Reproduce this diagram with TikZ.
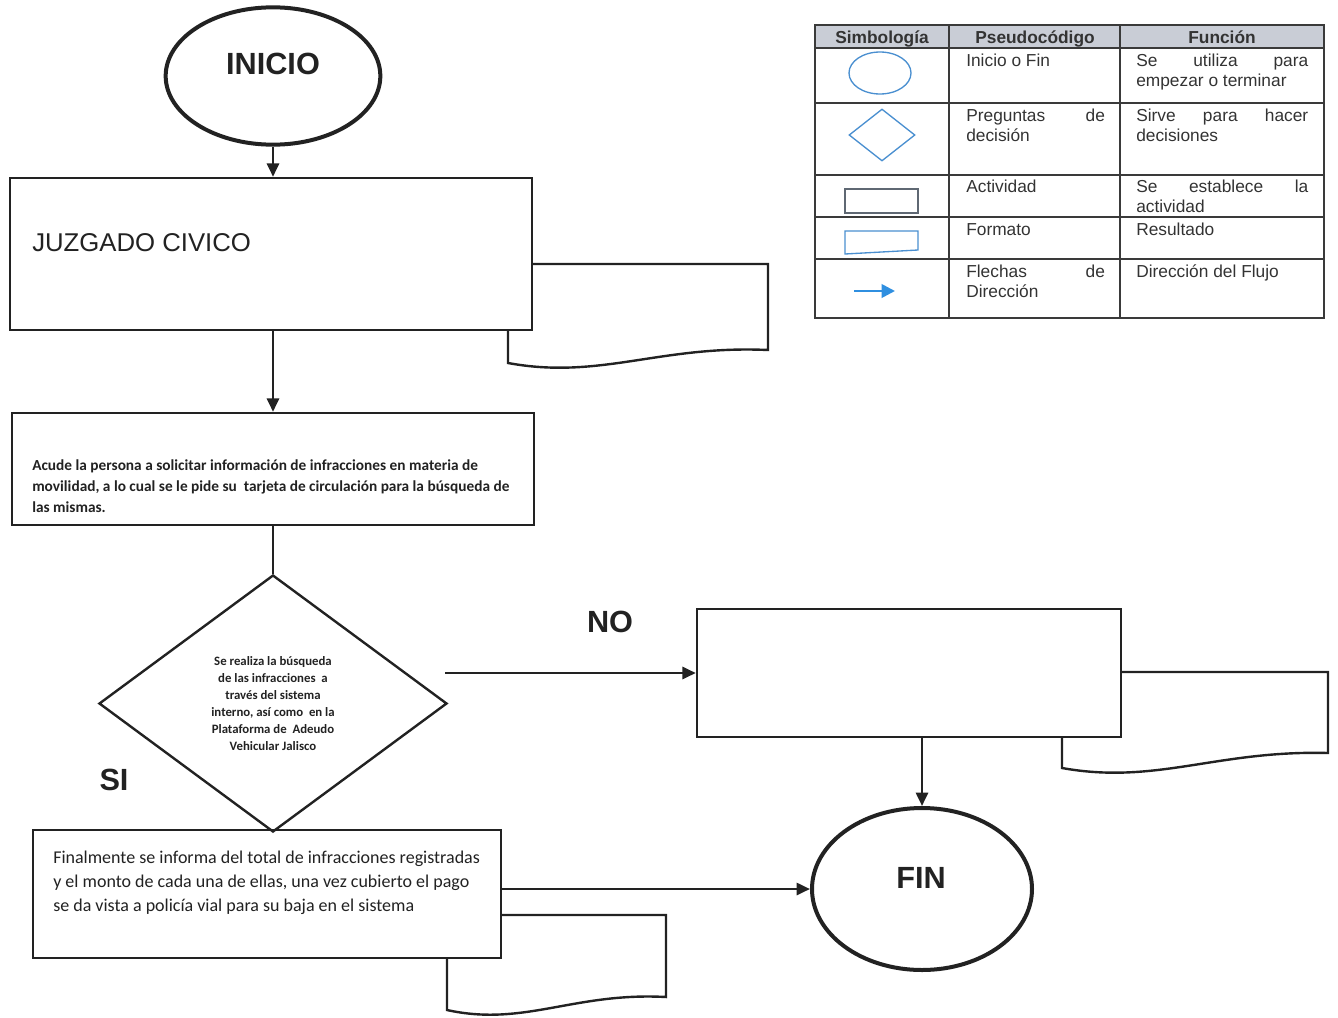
\documentclass[tikz,border=0pt]{standalone}
\usepackage{fontspec}
\setmainfont{Liberation Sans}
\newfontfamily\calib{Carlito}
\usetikzlibrary{shapes.geometric,arrows.meta}
\definecolor{ink}{HTML}{222222}
\definecolor{lblue}{HTML}{4A8FD0}
\definecolor{abl}{HTML}{2F8FE0}
\definecolor{hdr}{HTML}{C9CDD6}
\definecolor{tline}{HTML}{3A3A3A}
\definecolor{ttxt}{HTML}{333333}
\definecolor{rgray}{HTML}{5F6873}
\begin{document}
\begin{tikzpicture}[x=0.75pt,y=-0.75pt,
  arr/.style={draw=ink, line width=2pt, -{Triangle[length=10pt,width=9pt]}},
  plain/.style={draw=ink, line width=2pt},
  term/.style={ellipse, draw=ink, line width=3pt, inner sep=0pt},
  bigtxt/.style={inner sep=0pt, text=ink, font=\fontsize{23}{27}\selectfont\bfseries},
  procbox/.style={rectangle, draw=ink, line width=1.8pt, fill=white, inner sep=0pt},
  decbox/.style={diamond, draw=ink, line width=1.8pt, inner sep=0pt, align=center, text=ink,
     font=\calib\bfseries\fontsize{9.6}{12.75}\selectfont},
  docshape/.style={draw=ink, line width=1.8pt, fill=white},
  boxtxt/.style={anchor=base west, inner sep=0pt, text=ink},
  tcell/.style={anchor=base west, inner sep=0pt, text=ttxt, font=\fontsize{13}{15}\selectfont},
  thead/.style={anchor=base, inner sep=0pt, text=ttxt, font=\fontsize{13}{15}\selectfont\bfseries},
]
\useasboundingbox (0,0) rectangle (1338,1017);

% ---------- legend table ----------
\fill[hdr] (815,25) rectangle (1324,48);
\draw[tline, line width=1pt] (815,25) rectangle (1324,318);
\foreach \yy in {48,103,175,217,259} \draw[tline, line width=1pt] (815,\yy) -- (1324,\yy);
\foreach \xx in {949,1120} \draw[tline, line width=1pt] (\xx,25) -- (\xx,318);
\node[thead] (h1) at (882,43) {Simbología};
\node[thead] (h2) at (1035,43) {Pseudocódigo};
\node[thead] (h3) at (1222,43) {Función};

\node[ellipse, draw=lblue, line width=1pt, minimum width=46.5pt, minimum height=31.5pt, inner sep=0pt] (sym1) at (880,73) {};
\node[diamond, draw=lblue, line width=1pt, minimum width=49.5pt, minimum height=39pt, inner sep=0pt] (sym2) at (882,135) {};
\node[rectangle, draw=rgray, line width=1pt, minimum width=54.75pt, minimum height=18pt, inner sep=0pt] (sym3) at (881.5,201) {};
\draw[lblue, line width=1pt] (845,231) -- (918,231) -- (918,250) -- (845,254) -- cycle;
\coordinate (la1) at (854,291);
\coordinate (la2) at (895,291);
\draw[abl, line width=2pt, -{Triangle[length=10pt,width=10pt]}] (la1) -- (la2);

\node[tcell] (p1) at (966,66) {\parbox[t]{104pt}{Inicio o Fin}};
\node[tcell] (f1) at (1136,66) {\parbox[t]{129pt}{Se\hfill utiliza\hfill para\\empezar o terminar}};
\node[tcell] (p2) at (966,121) {\parbox[t]{104pt}{Preguntas\hfill de\\decisión}};
\node[tcell] (f2) at (1136,121) {\parbox[t]{129pt}{Sirve\hfill para\hfill hacer\\decisiones}};
\node[tcell] (p3) at (966,192) {\parbox[t]{104pt}{Actividad}};
\node[tcell] (f3) at (1136,192) {\parbox[t]{129pt}{Se\hfill establece\hfill la\\actividad}};
\node[tcell] (p4) at (966,235) {\parbox[t]{104pt}{Formato}};
\node[tcell] (f4) at (1136,235) {\parbox[t]{129pt}{Resultado}};
\node[tcell] (p5) at (966,277) {\parbox[t]{104pt}{Flechas\hfill de\\Dirección}};
\node[tcell] (f5) at (1136,277) {\parbox[t]{129pt}{Dirección del Flujo}};

% ---------- document shapes (behind boxes) ----------
\draw[docshape] (508,264) -- (768,264) -- (768,350) .. controls (660,345) and (600,380) .. (508,363) -- cycle;
\draw[docshape] (1062,672) -- (1328,672) -- (1328,753) .. controls (1217,750) and (1156,785) .. (1062,768) -- cycle;
\draw[docshape] (447,915) -- (666,915) -- (666,997) .. controls (574,992) and (524,1027) .. (447,1010) -- cycle;

% ---------- flow nodes ----------
\node[term, minimum width=161pt, minimum height=103pt] (inicio) at (273,76) {};
\node[bigtxt] (iniciotxt) at (273,64) {INICIO};

\node[procbox, minimum width=391.5pt, minimum height=114pt] (juz) at (271,254) {};
\node[boxtxt, font=\fontsize{19.3}{22}\selectfont] (juztxt) at (32,251) {JUZGADO CIVICO};

\node[procbox, minimum width=391.5pt, minimum height=84pt] (act) at (273,469) {};
\node[boxtxt, font=\calib\bfseries\fontsize{11.5}{15.75}\selectfont] (acttxt) at (32,470)
 {\parbox[t]{380pt}{\raggedright Acude la persona a solicitar información de infracciones en materia de\\movilidad, a lo cual se le pide su\ \ tarjeta de circulación para la búsqueda de\\las mismas.}};

\node[procbox, minimum width=351pt, minimum height=96pt] (finbox) at (267,894) {};
\node[boxtxt, font=\calib\fontsize{13.5}{18}\selectfont] (finboxtxt) at (53,863)
 {\parbox[t]{350pt}{\raggedright Finalmente se informa del total de infracciones registradas\\y el monto de cada una de ellas, una vez cubierto el pago\\se da vista a policía vial para su baja en el sistema}};

\node[decbox, minimum width=261pt, minimum height=192.75pt] (dec) at (273,703.5)
 {Se realiza la búsqueda\\de las infracciones\ \ a\\través del sistema\\interno, así como\ \ en la\\Plataforma de\ \ Adeudo\\Vehicular Jalisco};

\node[procbox, minimum width=318pt, minimum height=96pt] (nobox) at (909,673) {};

\node[term, minimum width=165pt, minimum height=121.5pt] (fin) at (922,889) {};
\node[bigtxt] (fintxt) at (921,878) {FIN};

\node[bigtxt] (nolbl) at (610,622) {NO};
\node[bigtxt] (silbl) at (114,780) {SI};

% ---------- connectors ----------
\draw[arr] (inicio.south) -- (inicio.south |- juz.north);
\draw[arr] (juz.south -| inicio.south) -- (act.north -| inicio.south);
\draw[plain] (act.south -| dec.north) -- (dec.north);
\coordinate (noout) at (445,673);
\draw[arr] (noout) -- (nobox.west);
\draw[arr] (nobox.south -| fin.north) -- (fin.north);
\draw[arr] (finbox.east |- fin.west) -- (fin.west);
\end{tikzpicture}
\end{document}
